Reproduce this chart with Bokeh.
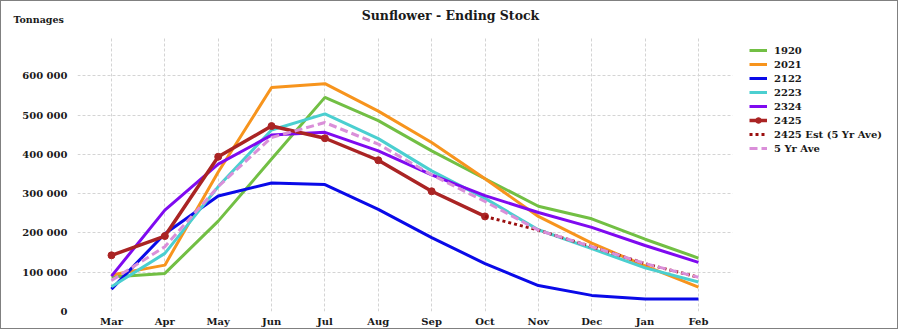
from bokeh.plotting import figure
from bokeh.models import Range1d, FixedTicker, Legend, LegendItem, Label, BoxAnnotation
from bokeh.embed import file_html
from bokeh.resources import INLINE

months = ["Mar", "Apr", "May", "Jun", "Jul", "Aug", "Sep", "Oct", "Nov", "Dec", "Jan", "Feb"]

s1920 = [88000, 97000, 230000, 388000, 545000, 486000, 409000, 338000, 268000, 236000, 184000, 136000]
s2021 = [93000, 118000, 355000, 570000, 580000, 510000, 430000, 338000, 242000, 174000, 116000, 62000]
s2122 = [57000, 198000, 294000, 327000, 323000, 260000, 188000, 122000, 66000, 41000, 32000, 32000]
s2223 = [63000, 148000, 318000, 462000, 503000, 440000, 358000, 288000, 208000, 160000, 111000, 75000]
s2324 = [90000, 258000, 375000, 449000, 456000, 409000, 348000, 295000, 252000, 214000, 168000, 125000]
s2425 = [143000, 192000, 394000, 472000, 441000, 385000, 306000, 242000]
est_months = ["Oct", "Nov", "Dec", "Jan", "Feb"]
s2425_est = [242000, 207000, 165000, 122000, 87000]
s5yr = [79000, 165000, 318000, 443000, 481000, 426000, 348000, 280000, 207000, 165000, 122000, 87000]

y_ticks = [0, 100000, 200000, 300000, 400000, 500000, 600000]
y_tick_labels = ["0", "100 000", "200 000", "300 000", "400 000", "500 000", "600 000"]

FONT = "DejaVu Serif"

idx = {m: i for i, m in enumerate(months)}
x_all = [idx[m] for m in months]

PAD = 0.637                      # half-gap left/right of first/last month
PX_PER_UNIT = 53.36              # plot-area scale (pixels per month)
PLOT_W = 655                     # width of the gridded plot area
FRAME_W = 898 - 76               # frame extends under the legend area
x_start = -PAD
x_plot_end = len(months) - 1 + PAD
x_end = x_start + FRAME_W / PX_PER_UNIT

p = figure(width=898, height=329, output_backend="svg", toolbar_location=None,
           x_range=Range1d(x_start, x_end),
           y_range=Range1d(0, 700000),
           min_border_left=76, min_border_right=0, min_border_top=35, min_border_bottom=19,
           title=None)
p.styles = {"border": "1px solid #808080"}
p.outline_line_color = None
p.background_fill_color = "white"
p.border_fill_color = "white"

# axes
p.xaxis.ticker = FixedTicker(ticks=x_all)
p.xaxis.major_label_overrides = {i: m for i, m in enumerate(months)}
p.yaxis.ticker = FixedTicker(ticks=y_ticks)
p.yaxis.major_label_overrides = {t: l for t, l in zip(y_ticks, y_tick_labels)}
for ax in (p.xaxis[0], p.yaxis[0]):
    ax.axis_line_color = None
    ax.major_tick_line_color = None
    ax.minor_tick_line_color = None
    ax.major_tick_out = 0
    ax.major_tick_in = 0
    ax.minor_tick_out = 0
    ax.minor_tick_in = 0
    ax.major_label_text_font = FONT
    ax.major_label_text_font_style = "bold"
    ax.major_label_text_font_size = "10px"
    ax.major_label_text_color = "#1a1a1a"
p.xaxis.major_label_standoff = 4
p.yaxis.major_label_standoff = 10

for g in (p.xgrid[0], p.ygrid[0]):
    g.grid_line_color = "#D4D4D4"
    g.grid_line_dash = "3 2"
    g.grid_line_width = 1
p.xgrid.ticker = FixedTicker(ticks=x_all)
p.ygrid.ticker = FixedTicker(ticks=y_ticks)

# blank out the grid under the legend area
p.add_layout(BoxAnnotation(left=x_plot_end, fill_color="white", fill_alpha=1.0,
                           line_alpha=0, level="underlay"))

W = 3
r1 = p.line(x_all, s1920, line_color="#72BF44", line_width=W)
r2 = p.line(x_all, s2021, line_color="#F7941D", line_width=W)
r3 = p.line(x_all, s2122, line_color="#0A0AE8", line_width=W)
r4 = p.line(x_all, s2223, line_color="#4BCFD0", line_width=W)
r5 = p.line(x_all, s2324, line_color="#7F0AF0", line_width=W)
x25 = [idx[m] for m in months[:len(s2425)]]
r6 = p.line(x25, s2425, line_color="#AA2424", line_width=3.5)
r6m = p.scatter(x25, s2425, marker="circle", size=7, fill_color="#AA2424", line_color="#AA2424")
xe = [idx[m] for m in est_months]
r7 = p.line(xe, s2425_est, line_color="#9B0F0F", line_width=3, line_dash="3 3")
r8 = p.line(x_all, s5yr, line_color="#DA8FD9", line_width=3, line_dash="8 4")

legend = Legend(items=[
    LegendItem(label="1920", renderers=[r1]),
    LegendItem(label="2021", renderers=[r2]),
    LegendItem(label="2122", renderers=[r3]),
    LegendItem(label="2223", renderers=[r4]),
    LegendItem(label="2324", renderers=[r5]),
    LegendItem(label="2425", renderers=[r6, r6m]),
    LegendItem(label="2425 Est (5 Yr Ave)", renderers=[r7]),
    LegendItem(label="5 Yr Ave", renderers=[r8]),
], location=(PLOT_W + 17, 156))
legend.padding = 0
legend.margin = 0
legend.spacing = 0
legend.label_height = 14
legend.glyph_height = 14
legend.glyph_width = 18
legend.label_standoff = 7
legend.border_line_color = None
legend.background_fill_alpha = 0
legend.label_text_font = FONT
legend.label_text_font_style = "bold"
legend.label_text_font_size = "10px"
legend.label_text_color = "#1a1a1a"
p.add_layout(legend, "center")

title = Label(x=373, y=21, x_units="screen", y_units="screen", text="Sunflower - Ending Stock",
              text_font=FONT, text_font_style="bold", text_font_size="12.5px",
              text_align="center", text_baseline="middle", text_color="#1a1a1a")
p.add_layout(title, "above")
ylab = Label(x=-64, y=2, x_units="screen", y_units="screen", text="Tonnages",
             text_font=FONT, text_font_style="bold", text_font_size="9.5px",
             text_align="left", text_baseline="middle", text_color="#1a1a1a")
p.add_layout(ylab, "above")

open("out.html", "w").write(file_html(p, INLINE))
